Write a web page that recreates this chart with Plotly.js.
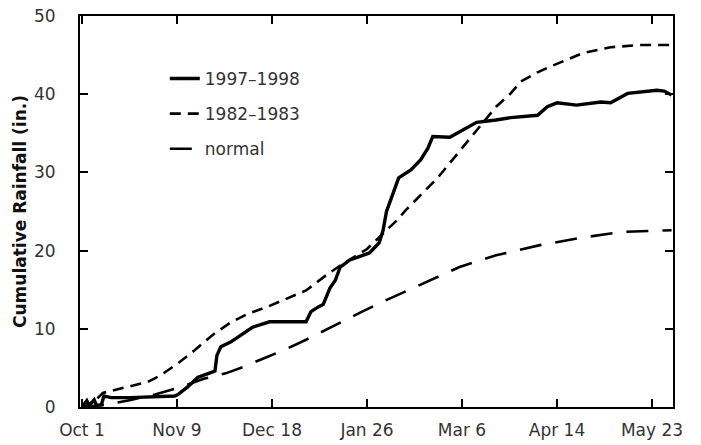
<!DOCTYPE html>
<html>
<head>
<meta charset="utf-8">
<script src="https://cdn.plot.ly/plotly-3.0.1.min.js"></script>
<style>
html,body{margin:0;padding:0;background:#fff;}
#chart{width:701px;height:445px;}
</style>
</head>
<body>
<div id="chart"></div>
<script>
// Days since Oct 1
var tickDays = [0, 39, 78, 117, 156, 195, 234];
var tickLabels = ["Oct 1", "Nov 9", "Dec 18", "Jan 26", "Mar 6", "Apr 14", "May 23"];

var days9798 = [0, 2, 3, 5, 6, 8, 9, 12, 20, 30, 38, 39.4, 43.5, 47.6, 51.7, 54.6, 55.4, 57, 61, 66, 70, 74, 77, 92, 94, 97, 99, 101.8, 104, 106, 110, 118, 122, 123.6, 125, 126.5, 130, 135, 139, 142, 144, 151, 156, 162, 170, 176, 187, 191, 195, 203, 213, 217, 224, 229, 236, 239, 242];
var rain9798 = [0, 0.8, 0.2, 0.9, 0.2, 0.3, 1.4, 1.2, 1.2, 1.3, 1.4, 1.6, 2.6, 3.8, 4.3, 4.6, 6.6, 7.7, 8.3, 9.3, 10.2, 10.6, 10.9, 10.9, 12.2, 12.8, 13.1, 15.2, 16.2, 17.9, 18.8, 19.7, 21.0, 22.6, 25.0, 26.3, 29.3, 30.3, 31.6, 33.1, 34.6, 34.5, 35.4, 36.4, 36.7, 37.0, 37.3, 38.4, 38.9, 38.6, 39.0, 38.9, 40.1, 40.3, 40.5, 40.4, 39.9];

var days8283 = [0, 3, 6, 8.6, 19, 27, 32, 39, 46, 54, 61, 68, 76, 85, 92, 100, 107, 117, 125, 129, 133, 139, 146, 151, 158, 163, 170, 176, 180, 187, 192, 206, 217, 229, 242];
var rain8283 = [0, 0.3, 1.0, 1.8, 2.6, 3.2, 4.0, 5.5, 7.2, 9.3, 10.8, 11.9, 12.8, 14.0, 14.9, 16.8, 18.3, 20.2, 22.6, 23.8, 25.2, 27.1, 29.3, 31.2, 33.8, 35.8, 38.4, 40.1, 41.6, 42.8, 43.5, 45.3, 46.0, 46.3, 46.3];

var daysNormal = [0, 10, 20, 30, 40, 50, 59, 66, 76, 83, 92, 99, 107, 115, 123, 139, 155, 170, 188, 206, 222, 242];
var rainNormal = [0, 0.3, 0.9, 1.6, 2.5, 3.6, 4.3, 5.1, 6.4, 7.3, 8.6, 9.7, 11.0, 12.2, 13.4, 15.7, 17.9, 19.4, 20.7, 21.7, 22.4, 22.6];

var traces = [
  {x: days9798, y: rain9798, mode: 'lines', name: '1997\u20131998', legendgroup: 'a',
   line: {color: '#000', width: 3.4, dash: 'solid'}},
  {x: days8283, y: rain8283, mode: 'lines', name: '1982\u20131983', legendgroup: 'b',
   line: {color: '#000', width: 2.6, dash: '11px,7px'}},
  {x: daysNormal, y: rainNormal, mode: 'lines', name: 'normal', legendgroup: 'c',
   line: {color: '#000', width: 2.6, dash: '22px,14px'}}
];

var FONT = '"DejaVu Sans", "Liberation Sans", Arial, sans-serif';
var layout = {
  width: 701, height: 445,
  margin: {l: 80, r: 28, t: 16, b: 38},
  paper_bgcolor: '#fff', plot_bgcolor: '#fff',
  font: {family: FONT, size: 18, color: '#333'},
  showlegend: true,
  legend: {x: 0.143, y: 0.885, xanchor: 'left', yanchor: 'top', bgcolor: 'rgba(0,0,0,0)',
           font: {family: FONT, size: 17, color: '#333'}, tracegroupgap: 10},
  xaxis: {
    range: [-0.8, 242.6], tickmode: 'array', tickvals: tickDays, ticktext: tickLabels,
    ticks: 'inside', ticklen: 8, tickwidth: 2, tickcolor: '#000',
    showline: true, linecolor: '#000', linewidth: 2, mirror: 'ticks',
    showgrid: false, zeroline: false, ticklabelstandoff: 7,
    tickfont: {family: FONT, size: 17, color: '#333'}
  },
  yaxis: {
    range: [0, 50], tickvals: [0, 10, 20, 30, 40, 50],
    ticks: 'inside', ticklen: 8, tickwidth: 2, tickcolor: '#000',
    showline: true, linecolor: '#000', linewidth: 2, mirror: 'ticks',
    showgrid: false, zeroline: false, ticklabelstandoff: 19,
    tickfont: {family: FONT, size: 17, color: '#333'},
    title: {text: 'Cumulative Rainfall (in.)', font: {family: FONT, size: 17, color: '#111', weight: 'bold'}, standoff: 3}
  }
};

Plotly.newPlot('chart', traces, layout, {displayModeBar: false, staticPlot: true});
</script>
</body>
</html>
